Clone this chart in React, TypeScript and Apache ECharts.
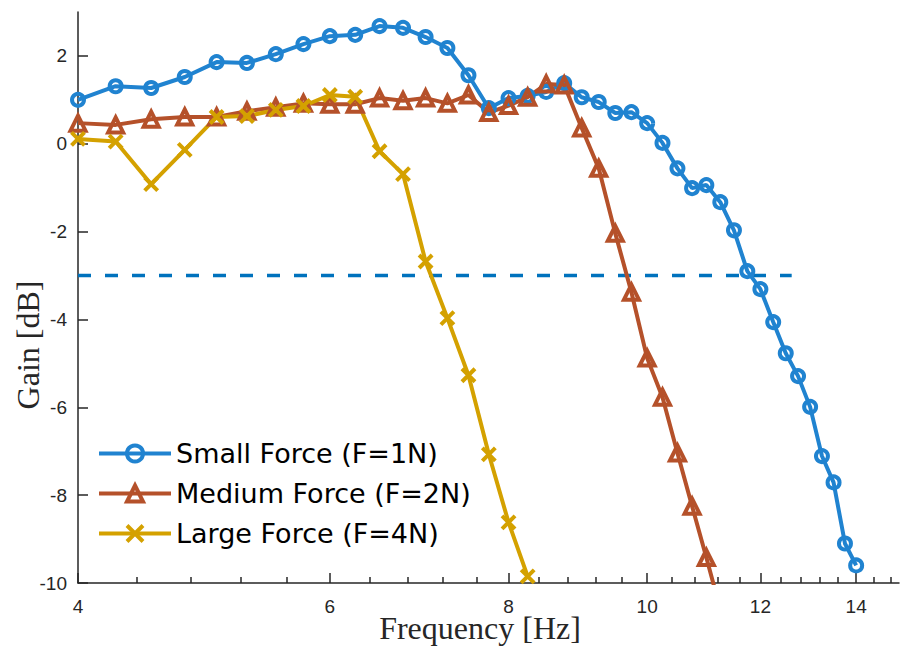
import React, { useEffect, useRef } from 'react';
import * as echarts from 'echarts';

const seriesNames = ['Small Force (F=1N)', 'Medium Force (F=2N)', 'Large Force (F=4N)'];

const freqSmall = [4, 4.25, 4.5, 4.75, 5, 5.25, 5.5, 5.75, 6, 6.25, 6.5, 6.75, 7, 7.25, 7.5, 7.75, 8, 8.25, 8.5, 8.75, 9, 9.25, 9.5, 9.75, 10, 10.25, 10.5, 10.75, 11, 11.25, 11.5, 11.75, 12, 12.25, 12.5, 12.75, 13, 13.25, 13.5, 13.75, 14];
const gainSmall = [1.0, 1.31, 1.27, 1.52, 1.86, 1.84, 2.04, 2.27, 2.45, 2.48, 2.68, 2.64, 2.43, 2.18, 1.56, 0.81, 1.04, 1.09, 1.18, 1.38, 1.06, 0.95, 0.7, 0.72, 0.47, 0.02, -0.56, -1.01, -0.94, -1.33, -1.97, -2.9, -3.31, -4.06, -4.77, -5.29, -5.99, -7.11, -7.71, -9.1, -9.6];

const freqMedium = [4, 4.25, 4.5, 4.75, 5, 5.25, 5.5, 5.75, 6, 6.25, 6.5, 6.75, 7, 7.25, 7.5, 7.75, 8, 8.25, 8.5, 8.75, 9, 9.25, 9.5, 9.75, 10, 10.25, 10.5, 10.75, 11, 11.25];
const gainMedium = [0.47, 0.43, 0.56, 0.61, 0.61, 0.74, 0.83, 0.92, 0.9, 0.9, 1.04, 0.98, 1.04, 0.92, 1.11, 0.71, 0.87, 1.06, 1.36, 1.34, 0.36, -0.56, -2.04, -3.38, -4.88, -5.77, -7.04, -8.25, -9.42, -10.6];

const freqLarge = [4, 4.25, 4.5, 4.75, 5, 5.25, 5.5, 5.75, 6, 6.25, 6.5, 6.75, 7, 7.25, 7.5, 7.75, 8, 8.25];
const gainLarge = [0.11, 0.05, -0.92, -0.14, 0.61, 0.63, 0.77, 0.86, 1.11, 1.07, -0.17, -0.69, -2.68, -3.97, -5.27, -7.07, -8.62, -9.85];

const thresholdGain = -3;
const thresholdFreq = [4, 12.62];

const xMajorTicks = [4, 6, 8, 10, 12, 14];
const xMinorTicks = [4.4, 4.8, 5.2, 5.6, 6.4, 6.8, 7.2, 7.6, 8.4, 8.8, 9.2, 9.6, 10.4, 10.8, 11.2, 11.6, 12.4, 12.8, 13.2, 13.6, 14.4, 14.8];
const yTicks = [-10, -8, -6, -4, -2, 0, 2];

const xMin = 4;
const xMax = 15;
const yMin = -10;
const yMax = 3;

const BLUE = '#2083D0';
const RED = '#B5512A';
const GOLD = '#D4A100';
const DASH = '#0072BD';
const AXIS = '#262626';

const pairs = (xs: number[], ys: number[]) => xs.map((x, i) => [x, ys[i]]);

export default function App() {
  const ref = useRef<HTMLDivElement>(null);
  useEffect(() => {
    const chart = echarts.init(ref.current!, null, { renderer: 'svg' });
    const labelFont = { fontFamily: 'Liberation Sans', fontSize: 19, color: AXIS };
    chart.setOption({
      animation: false,
      backgroundColor: '#ffffff',
      grid: { left: 78, right: 2, top: 12, bottom: 66, containLabel: false },
      xAxis: [
        {
          type: 'log',
          logBase: 10,
          min: xMin,
          max: xMax,
          position: 'bottom',
          axisLine: { show: true, onZero: false, lineStyle: { color: AXIS, width: 1.5 } },
          axisTick: { show: true, inside: true, length: 10, customValues: xMajorTicks, lineStyle: { color: AXIS, width: 1.5 } },
          axisLabel: { show: true, customValues: xMajorTicks, margin: 14, ...labelFont },
          splitLine: { show: false },
          minorTick: { show: false },
        },
        {
          type: 'log',
          logBase: 10,
          min: xMin,
          max: xMax,
          position: 'bottom',
          axisLine: { show: false, onZero: false },
          axisTick: { show: true, inside: true, length: 6, customValues: xMinorTicks, lineStyle: { color: AXIS, width: 1.5 } },
          axisLabel: { show: false },
          splitLine: { show: false },
        },
      ],
      yAxis: {
        type: 'value',
        min: yMin,
        max: yMax,
        axisLine: { show: true, onZero: false, lineStyle: { color: AXIS, width: 1.5 } },
        axisTick: { show: true, inside: true, length: 10, customValues: yTicks, lineStyle: { color: AXIS, width: 1.5 } },
        axisLabel: { show: true, customValues: yTicks, margin: 11, ...labelFont },
        splitLine: { show: false },
      },
      legend: {
        data: seriesNames,
        orient: 'vertical',
        left: 97,
        top: 440,
        padding: 0,
        itemWidth: 72,
        itemHeight: 20,
        itemGap: 13,
        lineStyle: { width: 4 },
        itemStyle: { borderWidth: 4 },
        textStyle: { fontFamily: 'DejaVu Sans', fontSize: 27, color: '#000' },
      },
      graphic: [
        {
          type: 'text',
          x: 28,
          y: 345,
          rotation: Math.PI / 2,
          style: { text: 'Gain [dB]', fontFamily: 'Liberation Serif', fontSize: 32, fill: AXIS, align: 'center', verticalAlign: 'middle' },
        },
        {
          type: 'text',
          x: 480,
          y: 628,
          style: { text: 'Frequency [Hz]', fontFamily: 'Liberation Serif', fontSize: 32, fill: AXIS, align: 'center', verticalAlign: 'middle' },
        },
      ],
      series: [
        {
          name: 'threshold',
          type: 'line',
          data: thresholdFreq.map((f) => [f, thresholdGain]),
          symbol: 'none',
          lineStyle: { color: DASH, width: 3.5, type: [13, 14] },
          silent: true,
        },
        {
          name: seriesNames[0],
          type: 'line',
          data: pairs(freqSmall, gainSmall),
          symbol: 'circle',
          symbolSize: 12,
          color: BLUE,
          lineStyle: { color: BLUE, width: 4 },
          itemStyle: { color: 'none', borderColor: BLUE, borderWidth: 4 },
        },
        {
          name: seriesNames[1],
          type: 'line',
          data: pairs(freqMedium, gainMedium),
          symbol: 'triangle',
          symbolSize: 15,
          color: RED,
          lineStyle: { color: RED, width: 4 },
          itemStyle: { color: 'none', borderColor: RED, borderWidth: 4 },
        },
        {
          name: seriesNames[2],
          type: 'line',
          data: pairs(freqLarge, gainLarge),
          symbol: 'path://M0 0L10 10M10 0L0 10',
          symbolSize: 13,
          color: GOLD,
          lineStyle: { color: GOLD, width: 4 },
          itemStyle: { color: 'none', borderColor: GOLD, borderWidth: 4 },
        },
      ],
    });
    return () => chart.dispose();
  }, []);
  return <div ref={ref} style={{ position: 'absolute', left: 0, top: 0, width: 901, height: 649, background: '#fff' }} />;
}
